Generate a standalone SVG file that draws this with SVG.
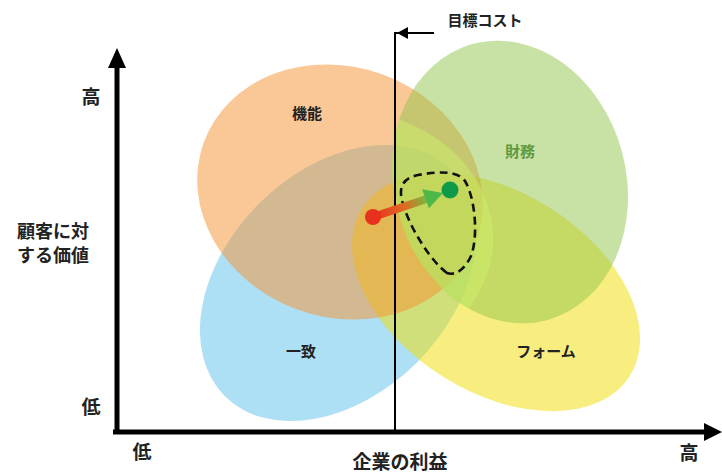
<svg xmlns="http://www.w3.org/2000/svg" width="722" height="473" viewBox="0 0 722 473">
<style>
.lbl{font-family:"Noto Sans CJK JP","Noto Sans",sans-serif;font-weight:700;fill:#222;text-anchor:middle}
.s16{font-size:15px}
.s20{font-size:19px}
.s18{font-size:18px}
.ell{fill-opacity:0.5;stroke:none}
</style>
<defs>
<linearGradient id="grad" gradientUnits="userSpaceOnUse" x1="373" y1="217" x2="443" y2="193">
<stop offset="0" stop-color="#E8301E"/>
<stop offset="0.45" stop-color="#E06A22"/>
<stop offset="0.75" stop-color="#7FB540"/>
<stop offset="1" stop-color="#4DB848"/>
</linearGradient>
<clipPath id="clipOrange">
<ellipse cx="340" cy="192" rx="145" ry="125" transform="rotate(20 340 192)"/>
</clipPath>
</defs>
<rect width="722" height="473" fill="#fff"/>
<g id="node-icchi">
<ellipse class="ell" cx="338" cy="283" rx="160" ry="112" transform="rotate(-45 338 283)" fill="#5DC1EB"/>
</g>
<g id="node-form">
<ellipse class="ell" cx="496" cy="292" rx="158" ry="100" transform="rotate(32 496 292)" fill="#F1DD00"/>
</g>
<g id="node-kinou">
<ellipse class="ell" cx="340" cy="192" rx="145" ry="125" transform="rotate(20 340 192)" fill="#F5912D"/>
</g>
<g id="node-zaimu">
<ellipse class="ell" cx="510" cy="182" rx="116" ry="143" transform="rotate(-15 510 182)" fill="#91C34B"/>
<ellipse class="ell" cx="510" cy="182" rx="116" ry="143" transform="rotate(-15 510 182)" fill="#CDF069" clip-path="url(#clipOrange)"/>
</g>
<g id="labels">
<text class="lbl s16" x="307" y="119">機能</text>
<text class="lbl s16" x="520" y="157" style="fill:#5E9A3E">財務</text>
<text class="lbl s16" x="301" y="357">一致</text>
<text class="lbl s16" x="546" y="357">フォーム</text>
<text class="lbl s16" x="485" y="26">目標コスト</text>
</g>
<g id="connectors">
<line x1="117" y1="433" x2="117" y2="64" stroke="#000" stroke-width="5"/>
<path d="M117,48 L126,68 L108,68 Z" fill="#000"/>
<line x1="113" y1="432" x2="706" y2="432" stroke="#000" stroke-width="5"/>
<path d="M722,432 L704,423 L704,441 Z" fill="#000"/>
<polyline points="395,432 395,33 434,33" fill="none" stroke="#000" stroke-width="2"/>
<path d="M397,33 L408,27 L408,39 Z" fill="#000"/>
<path d="M447,273 C432,262 412,232 404,207 C398,190 400,179 418,175 C440,171 458,171 465,181 C476,200 478,238 471,256 C465,269 456,276 447,273 Z" fill="none" stroke="#111" stroke-width="2.6" stroke-dasharray="8,5"/>
<line x1="373" y1="217" x2="428" y2="198.5" stroke="url(#grad)" stroke-width="8"/>
<path d="M443,193 L428.9,208.3 L422.1,189.3 Z" fill="#4DB848"/>
<circle cx="373" cy="217" r="8" fill="#E8301E"/>
<circle cx="450" cy="190" r="8.5" fill="#0E9A48"/>
</g>
<g id="axis-labels">
<text class="lbl s20" x="91" y="104">高</text>
<text class="lbl s20" x="91" y="414">低</text>
<text class="lbl s18" x="53" y="238">顧客に対</text>
<text class="lbl s18" x="53" y="262">する価値</text>
<text class="lbl s20" x="142" y="459">低</text>
<text class="lbl s20" x="400" y="469">企業の利益</text>
<text class="lbl s20" x="689" y="460">高</text>
</g>
</svg>
